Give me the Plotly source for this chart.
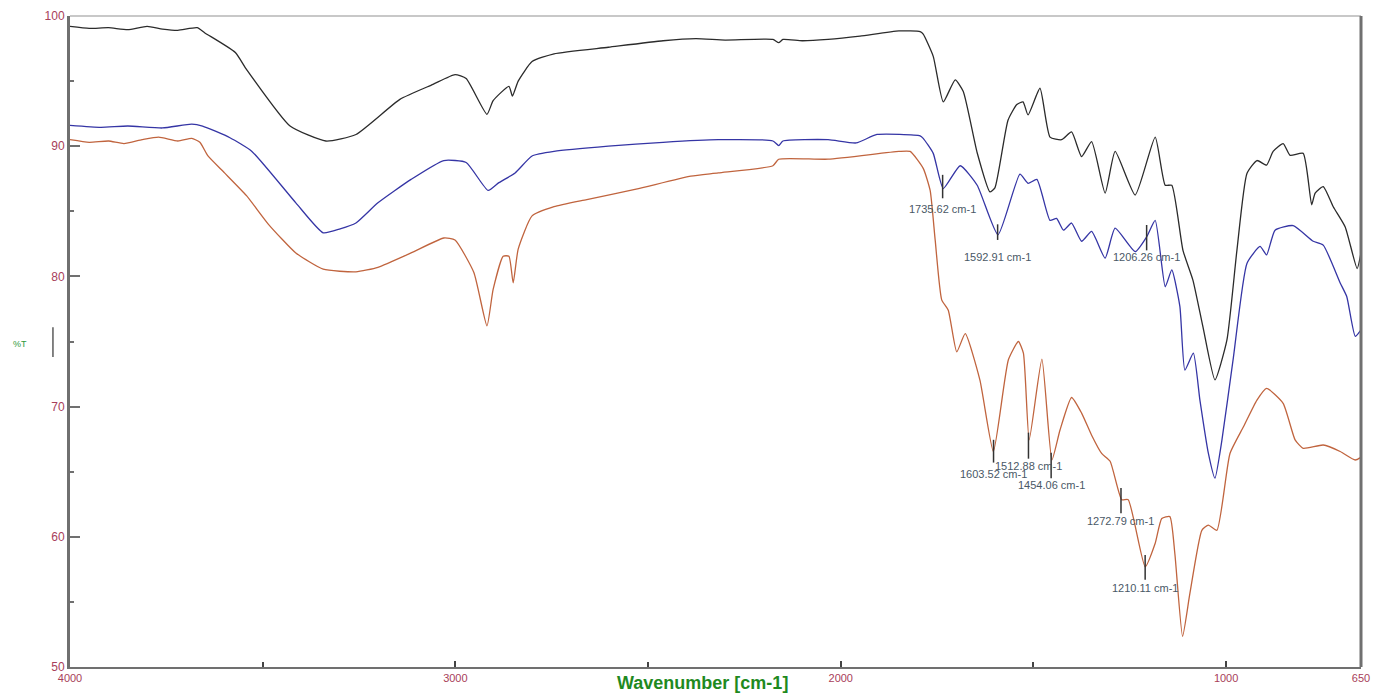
import plotly.graph_objects as go

# ---- data (wavenumber cm-1, %T) ----
black_wn = [4000, 3950, 3900, 3850, 3800, 3760, 3720, 3670, 3650, 3571, 3542, 3429, 3336, 3258, 3144, 3058, 3001, 2972,
            2918, 2902, 2861, 2852, 2837, 2801, 2744, 2603, 2461, 2376, 2300, 2176, 2161, 2150, 2100, 2033, 1950, 1849,
            1794, 1786, 1760, 1734, 1703, 1682, 1646, 1613, 1600, 1566, 1543, 1527, 1514, 1483, 1457,
            1427, 1401, 1375, 1349, 1314, 1288, 1236, 1184, 1158, 1141, 1112, 1086, 1060, 1029, 998,
            972, 946, 920, 895, 878, 852, 834, 800, 778, 769, 748, 722, 691, 660, 650]
black_T = [99.2, 99.05, 99.1, 98.95, 99.2, 99.0, 98.9, 99.1, 98.7, 97.2, 95.9, 91.55, 90.4, 90.9, 93.6, 94.75, 95.5, 95.2,
           92.45, 93.5, 94.6, 93.85, 95.0, 96.5, 97.1, 97.6, 98.1, 98.26, 98.15, 98.2, 97.95, 98.2, 98.1, 98.2, 98.45, 98.85,
           98.8, 98.6, 96.9, 93.4, 95.1, 94.2, 89.5, 86.5, 86.8, 92.0, 93.2, 93.4, 92.4, 94.45, 90.7,
           90.5, 91.1, 89.2, 90.35, 86.4, 89.6, 86.25, 90.7, 87.0, 87.0, 82.0, 79.7, 76.1, 72.05, 75.1,
           82.0, 87.9, 88.9, 88.55, 89.6, 90.2, 89.3, 89.45, 85.5, 86.4, 86.9, 85.35, 83.8, 80.6, 81.8]

blue_wn = [4000, 3920, 3850, 3760, 3684, 3656, 3585, 3528, 3414, 3343, 3299, 3258, 3201, 3115, 3030, 2972, 2915,
           2887, 2845, 2801, 2744, 2603, 2461, 2318, 2176, 2161, 2150, 2033, 1960, 1906, 1794, 1786, 1760,
           1734, 1690, 1646, 1592, 1535, 1514, 1491, 1457, 1440, 1422, 1401, 1375, 1349, 1314, 1288,
           1236, 1206, 1184, 1158, 1141, 1120, 1107, 1085, 1068, 1046, 1029, 1011, 981, 946, 912,
           895, 873, 826, 774, 748, 704, 687, 665, 650]
blue_T = [91.6, 91.45, 91.55, 91.4, 91.7, 91.55, 90.65, 89.6, 85.65, 83.35, 83.65, 84.1, 85.65, 87.45, 88.9, 88.75, 86.6,
          87.2, 87.95, 89.25, 89.6, 90.0, 90.3, 90.5, 90.4, 90.05, 90.4, 90.5, 90.25, 90.9, 90.8, 90.6, 89.45,
          86.75, 88.5, 87.0, 83.2, 87.85, 87.15, 87.45, 84.3, 84.45, 83.55, 84.1, 82.7, 83.45, 81.4, 83.7,
          81.9, 83.05, 84.3, 79.2, 80.5, 77.7, 72.8, 74.1, 70.5, 66.4, 64.5, 67.4, 73.8, 81.0, 82.3,
          81.65, 83.55, 83.9, 82.7, 82.4, 79.5, 78.45, 75.4, 75.9]

orange_wn = [4000, 3950, 3900, 3860, 3813, 3770, 3720, 3684, 3663, 3642, 3599, 3542, 3485, 3414, 3343, 3258, 3201, 3115,
             3030, 3001, 2952, 2918, 2902, 2876, 2861, 2850, 2837, 2801, 2744, 2659, 2531, 2389, 2318,
             2176, 2161, 2033, 1849, 1820, 1786, 1768, 1755, 1738, 1721, 1699, 1677, 1639, 1604, 1565,
             1539, 1526, 1511, 1478, 1452, 1431, 1401, 1375, 1349, 1323, 1301, 1271, 1254, 1210, 1184,
             1167, 1146, 1133, 1113, 1094, 1063, 1046, 1024, 990, 955, 920, 895, 852, 821, 800,
             748, 704, 665, 650]
orange_T = [90.5, 90.3, 90.4, 90.2, 90.5, 90.7, 90.4, 90.6, 90.3, 89.25, 87.95, 86.2, 84.0, 81.8, 80.55, 80.35, 80.7, 81.8,
            82.95, 82.8, 80.3, 76.2, 79.0, 81.55, 81.55, 79.5, 82.1, 84.65, 85.35, 85.9, 86.7, 87.7, 87.95,
            88.5, 89.0, 89.0, 89.6, 89.6, 88.3, 86.6, 82.8, 78.2, 77.4, 74.2, 75.6, 72.05, 66.55, 73.6,
            75.0, 74.1, 67.45, 73.65, 65.9, 68.2, 70.7, 69.5, 67.8, 66.4, 65.8, 62.85, 62.85, 57.7, 59.5,
            61.4, 61.55, 58.7, 52.35, 55.65, 60.5, 60.9, 60.5, 66.4, 68.45, 70.5, 71.4, 70.25, 67.45, 66.8,
            67.05, 66.55, 65.9, 66.1]

# peak markers
peak_labels = ["1735.62 cm-1", "1592.91 cm-1", "1206.26 cm-1", "1603.52 cm-1",
               "1512.88 cm-1", "1454.06 cm-1", "1272.79 cm-1", "1210.11 cm-1"]
peak_wn = [1735.62, 1592.91, 1206.26, 1603.52, 1512.88, 1454.06, 1272.79, 1210.11]
peak_tick_top = [87.8, 84.0, 83.95, 67.45, 68.0, 66.45, 63.75, 58.6]
peak_tick_bot = [86.0, 82.8, 82.0, 65.7, 66.0, 64.5, 61.8, 56.7]
peak_text_T = [85.2, 81.5, 81.5, 64.8, 65.4, 63.95, 61.2, 56.1]

x_tickvals = [4000, 3000, 2000, 1000, 650]
x_minor = [3500, 2500, 1500]
y_tickvals = [50, 60, 70, 80, 90, 100]
y_minor = [55, 65, 75, 85, 95]

tick_font_color = "#a8405a"

fig = go.Figure()
for xs, ys, col in [(black_wn, black_T, "#2b2b2b"), (blue_wn, blue_T, "#3535a5"), (orange_wn, orange_T, "#c0643e")]:
    fig.add_trace(go.Scatter(x=xs, y=ys, mode="lines",
                             line=dict(color=col, width=1.3, shape="spline", smoothing=0.5),
                             showlegend=False))

for lab, wn, t1, t0, tt in zip(peak_labels, peak_wn, peak_tick_top, peak_tick_bot, peak_text_T):
    fig.add_shape(type="line", xref="x", yref="y", x0=wn, x1=wn, y0=t0, y1=t1,
                  line=dict(color="#333333", width=1.5))
    fig.add_annotation(x=wn, y=tt, xref="x", yref="y", text=lab, showarrow=False,
                       font=dict(family="Liberation Sans, Arial", size=11, color="#4a5866"),
                       xanchor="center", yanchor="middle")

# frame: top (light) and right (dark)
fig.add_shape(type="line", xref="paper", yref="paper", x0=0, x1=1, y0=1, y1=1,
              line=dict(color="#c8c8c8", width=2))
fig.add_shape(type="line", xref="paper", yref="paper", x0=1, x1=1, y0=0, y1=1,
              line=dict(color="#707070", width=3))

# axis titles
fig.add_annotation(x=0.49, y=0, xref="paper", yref="paper", yshift=-16, text="<b>Wavenumber [cm-1]</b>",
                   showarrow=False, font=dict(family="Liberation Sans, Arial", size=18, color="#1f8a1f"),
                   xanchor="center", yanchor="middle")
fig.add_annotation(x=-0.0387, y=0.496, xref="paper", yref="paper", text="%T", showarrow=False,
                   font=dict(family="Liberation Sans, Arial", size=9, color="#2e9a3e"),
                   xanchor="center", yanchor="middle")
fig.add_shape(type="line", xref="paper", yref="paper", x0=-0.0132, x1=-0.0132, y0=0.476, y1=0.522,
              line=dict(color="#333333", width=1.2))

fig.update_layout(
    width=1376, height=696,
    margin=dict(l=70, r=15, t=16, b=29, autoexpand=False),
    paper_bgcolor="white", plot_bgcolor="white",
    font=dict(family="Liberation Sans, Arial", size=11, color=tick_font_color),
)
fig.update_xaxes(range=[4000, 650], tickvals=x_tickvals, ticktext=[str(v) for v in x_tickvals],
                 ticks="inside", ticklen=6, tickwidth=1.5, tickcolor="#444444", automargin=False,
                 showline=True, linecolor="#707070", linewidth=2, showgrid=False, zeroline=False,
                 tickfont=dict(size=11, color=tick_font_color),
                 minor=dict(tickvals=x_minor, ticks="inside", ticklen=5, tickwidth=1.5, tickcolor="#444444"))
fig.update_yaxes(range=[50, 100], tickvals=y_tickvals, ticktext=[str(v) for v in y_tickvals],
                 ticks="inside", ticklen=10, tickwidth=2, tickcolor="#707070", automargin=False,
                 showline=True, linecolor="#707070", linewidth=3, showgrid=False, zeroline=False,
                 tickfont=dict(size=12, color=tick_font_color),
                 minor=dict(tickvals=y_minor, ticks="inside", ticklen=4, tickwidth=1.5, tickcolor="#707070"))

fig.write_html("out.html")
